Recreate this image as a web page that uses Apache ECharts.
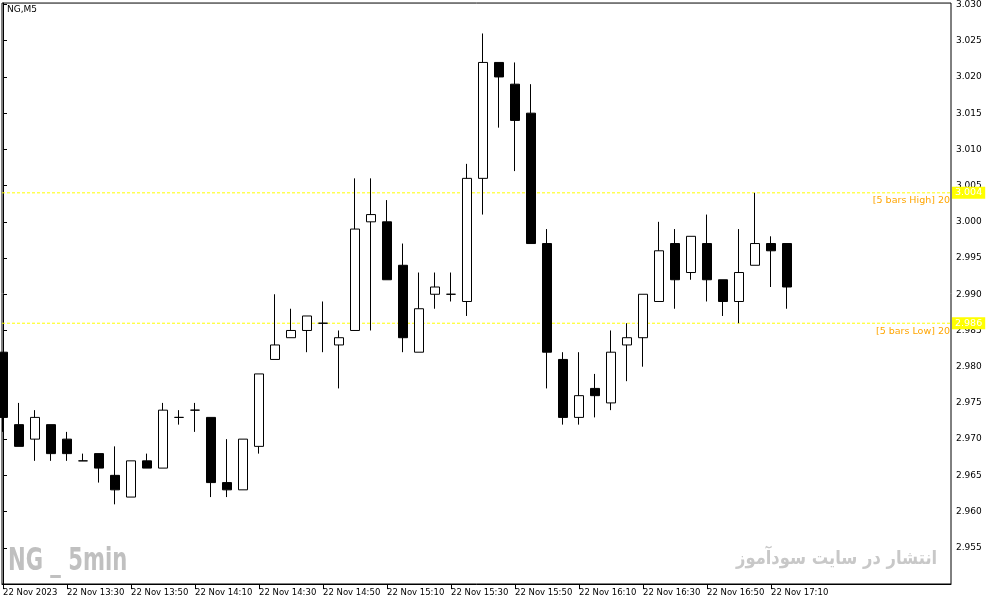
<!DOCTYPE html>
<html>
<head>
<meta charset="utf-8">
<script src="https://cdn.jsdelivr.net/npm/echarts@6/dist/echarts.min.js"></script>
<style>
html,body{margin:0;padding:0;background:#fff;}
#chart{width:991px;height:605px;}
</style>
</head>
<body>
<div id="chart"></div>
<script>
// 5-minute bars, 22 Nov 2023, 13:10 .. 17:15
var times = ['13:10','13:15','13:20','13:25','13:30','13:35','13:40','13:45','13:50','13:55',
             '14:00','14:05','14:10','14:15','14:20','14:25','14:30','14:35','14:40','14:45',
             '14:50','14:55','15:00','15:05','15:10','15:15','15:20','15:25','15:30','15:35',
             '15:40','15:45','15:50','15:55','16:00','16:05','16:10','16:15','16:20','16:25',
             '16:30','16:35','16:40','16:45','16:50','16:55','17:00','17:05','17:10','17:15'];
var opens  = [2.982,2.972,2.970,2.972,2.970,2.967,2.968,2.965,2.962,2.967,
              2.966,2.973,2.974,2.973,2.964,2.963,2.969,2.981,2.984,2.985,
              2.986,2.983,2.985,3.000,3.000,2.994,2.982,2.990,2.990,2.989,
              3.006,3.022,3.019,3.015,2.997,2.981,2.973,2.977,2.975,2.983,
              2.984,2.989,2.997,2.993,2.997,2.992,2.989,2.994,2.997,2.997];
var closes = [2.973,2.969,2.973,2.968,2.968,2.967,2.966,2.963,2.967,2.966,
              2.974,2.973,2.974,2.964,2.963,2.970,2.979,2.983,2.985,2.987,
              2.986,2.984,2.999,3.001,2.992,2.984,2.988,2.991,2.990,3.006,
              3.022,3.020,3.014,2.997,2.982,2.973,2.976,2.976,2.982,2.984,
              2.990,2.996,2.992,2.998,2.992,2.989,2.993,2.997,2.996,2.991];
var lows   = [2.971,2.969,2.967,2.967,2.967,2.967,2.964,2.961,2.962,2.966,
              2.966,2.972,2.971,2.962,2.962,2.963,2.968,2.981,2.984,2.982,
              2.982,2.977,2.985,2.985,2.992,2.982,2.982,2.988,2.989,2.987,
              3.001,3.013,3.007,2.997,2.977,2.972,2.972,2.973,2.974,2.978,
              2.980,2.989,2.988,2.992,2.989,2.987,2.986,2.994,2.991,2.988];
var highs  = [2.982,2.975,2.974,2.972,2.971,2.968,2.968,2.969,2.967,2.968,
              2.975,2.974,2.975,2.973,2.970,2.970,2.979,2.990,2.988,2.987,
              2.989,2.985,3.006,3.006,3.003,2.997,2.993,2.993,2.993,3.008,
              3.026,3.022,3.022,3.019,2.999,2.982,2.982,2.979,2.985,2.986,
              2.990,3.000,2.999,2.998,3.001,2.992,2.999,3.004,2.998,2.997];

var xTickIndex  = [0,4,8,12,16,20,24,28,32,36,40,44,48];
var xTickLabels = ['22 Nov 2023','22 Nov 13:30','22 Nov 13:50','22 Nov 14:10','22 Nov 14:30',
                   '22 Nov 14:50','22 Nov 15:10','22 Nov 15:30','22 Nov 15:50','22 Nov 16:10',
                   '22 Nov 16:30','22 Nov 16:50','22 Nov 17:10'];
var yTicks = [2.955,2.960,2.965,2.970,2.975,2.980,2.985,2.990,2.995,3.000,3.005,3.010,3.015,3.020,3.025,3.030];

var levelHigh = 3.004, levelLow = 2.986;
var levelHighText = '[5 bars High] 20', levelLowText = '[5 bars Low] 20';

var X_MIN = -0.0625, X_MAX = 59.25;

var ohlc = [];
for (var i = 0; i < times.length; i++) {
  ohlc.push([i, opens[i], closes[i], lows[i], highs[i]]);
}

var FONT = "'DejaVu Sans', sans-serif";
var chart = echarts.init(document.getElementById('chart'), null, {renderer: 'canvas'});

function levelSeries(val, txt) {
  return {
    type: 'line',
    data: [[X_MIN, val], [X_MAX, val]],
    symbol: 'none',
    silent: true,
    z: 3,
    lineStyle: {color: '#ffff00', type: [3, 2], width: 1},
    endLabel: {
      show: true, distance: 1,
      formatter: function () { return val.toFixed(3); },
      backgroundColor: '#ffff00', color: '#ffffff',
      fontFamily: FONT, fontSize: 9.5, padding: [1, 3, 1, 3]
    },
    markPoint: {
      silent: true,
      symbol: 'rect', symbolSize: 0,
      label: {
        show: true, position: 'bottom', distance: 0,
        align: 'right', verticalAlign: 'top', offset: [-1, 3],
        color: '#ffa500', fontFamily: FONT, fontSize: 9.5,
        formatter: function () { return txt; }
      },
      data: [{coord: [X_MAX, val]}]
    },
    clip: false
  };
}

var option = {
  animation: false,
  backgroundColor: '#ffffff',
  title: {
    text: 'NG,M5', left: 7, top: 5, padding: 0,
    textStyle: {fontFamily: FONT, fontSize: 9, fontWeight: 'normal', color: '#000'}
  },
  grid: {
    left: 2, top: 2, right: 40, bottom: 21,
    show: true, borderColor: '#000', borderWidth: 1, backgroundColor: '#fff'
  },
  xAxis: {
    type: 'value', min: X_MIN, max: X_MAX,
    axisLine: {show: true, lineStyle: {color: '#000', width: 1}},
    axisTick: {show: true, length: 5, customValues: xTickIndex, lineStyle: {color: '#000'}},
    axisLabel: {
      show: true, customValues: xTickIndex, align: 'left', margin: 4,
      fontFamily: FONT, fontSize: 8.5, color: '#000',
      formatter: function (v) {
        var k = xTickIndex.indexOf(Math.round(v));
        return k >= 0 ? xTickLabels[k] : '';
      }
    },
    splitLine: {show: false}
  },
  yAxis: {
    type: 'value', position: 'right', min: 2.950, max: 3.0302, scale: true,
    axisLine: {show: true, lineStyle: {color: '#000', width: 1}},
    axisTick: {show: true, length: 4, customValues: yTicks, lineStyle: {color: '#000'}},
    axisLabel: {
      show: true, customValues: yTicks, margin: 5,
      fontFamily: FONT, fontSize: 9, color: '#000',
      formatter: function (v) { return v.toFixed(3); }
    },
    splitLine: {show: false}
  },
  graphic: [
    {
      type: 'text', x: 8, y: 546, silent: true, scaleX: 0.66,
      style: {
        text: 'NG _ 5min', fill: '#c0c0c0',
        font: "bold 32px 'DejaVu Sans', sans-serif"
      }
    },
    {
      type: 'text', x: 736, y: 550, silent: true, scaleX: 0.86,
      style: {
        text: 'انتشار در سایت سودآموز', fill: '#c8c8c8',
        font: "bold 19px 'DejaVu Sans', sans-serif"
      }
    }
  ],
  series: [{
    type: 'candlestick',
    data: ohlc,
    encode: {x: 0, y: [1, 2, 3, 4]},
    barWidth: 9,
    clip: true,
    z: 4,
    itemStyle: {
      color: '#ffffff', color0: '#000000',
      borderColor: '#000000', borderColor0: '#000000', borderColorDoji: '#000000',
      borderWidth: 1
    }
  },
  levelSeries(levelHigh, levelHighText),
  levelSeries(levelLow, levelLowText)
  ]
};
chart.setOption(option);
</script>
</body>
</html>
